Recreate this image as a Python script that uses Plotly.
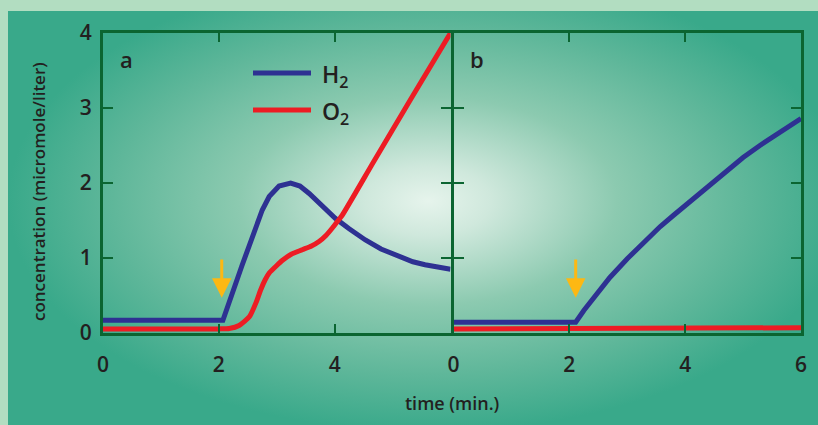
import base64
import plotly.graph_objects as go

# ---------------- data ----------------
# panel a
TA_H2 = [0, 2.07, 2.4, 2.75, 2.87, 3.04, 3.24, 3.4, 3.56, 3.8, 4.01, 4.25, 4.53, 4.8, 5.1, 5.35, 5.56, 5.8, 6.0]
H2_A = [0.17, 0.17, 0.90, 1.64, 1.82, 1.96, 2.0, 1.96, 1.86, 1.68, 1.53, 1.39, 1.24, 1.12, 1.02, 0.95, 0.91, 0.87, 0.85]
TA_O2 = [0, 1.0, 2.0, 2.18, 2.35, 2.53, 2.65, 2.72, 2.8, 2.87, 3.0, 3.1, 3.25, 3.44, 3.6, 3.73, 3.85, 3.96, 4.05, 4.13, 4.67, 5.3, 6.0]
O2_A = [0.055, 0.055, 0.055, 0.06, 0.10, 0.22, 0.42, 0.57, 0.71, 0.80, 0.90, 0.97, 1.05, 1.11, 1.16, 1.22, 1.30, 1.40, 1.49, 1.57, 2.28, 3.10, 4.0]
# panel b
TB_H2 = [0, 2.11, 2.25, 2.43, 2.7, 3.0, 3.3, 3.57, 3.8, 4.0, 4.25, 4.5, 4.72, 5.0, 5.29, 5.5, 5.75, 6.0]
H2_B = [0.145, 0.145, 0.30, 0.48, 0.74, 0.99, 1.22, 1.42, 1.57, 1.70, 1.87, 2.03, 2.17, 2.34, 2.50, 2.61, 2.74, 2.86]
TB_O2 = [0, 6.0]
O2_B = [0.055, 0.07]
# injection arrows (x position, arrow tail y, arrow tip y)
ARROW_X = [2.05, 2.11]
ARROW_TAIL = [1.0, 1.0]
ARROW_TIP = [0.47, 0.47]

X_TICKS_A = [0, 2, 4]
X_TICKS_B = [0, 2, 4, 6]
Y_TICKS = [0, 1, 2, 3, 4]

# ---------------- style ----------------
W, H = 818, 425
BLUE = "#2e3192"
RED = "#ed1c24"
ORANGE = "#fdb813"
FRAME = "#0b6531"
TXT = "#231f20"
FONT = "Open Sans"

def px(v):
    return v / W

def py(v):
    return 1 - v / H

# background radial gradient (decoration) as inline svg
svg = (
    "<svg xmlns='http://www.w3.org/2000/svg' width='810' height='414' viewBox='0 0 810 414'>"
    "<defs><radialGradient id='g' gradientUnits='userSpaceOnUse' cx='420' cy='190' r='420' "
    "gradientTransform='translate(420 190) scale(1 0.55) translate(-420 -190)'>"
    "<stop offset='0' stop-color='#e6f4ec'/>"
    "<stop offset='0.15' stop-color='#cfe8dc'/>"
    "<stop offset='0.45' stop-color='#8ccab0'/>"
    "<stop offset='0.75' stop-color='#5fb79a'/>"
    "<stop offset='1' stop-color='#39a98a'/>"
    "</radialGradient></defs>"
    "<rect width='810' height='414' fill='url(#g)'/></svg>"
)
svg_uri = "data:image/svg+xml;base64," + base64.b64encode(svg.encode()).decode()

fig = go.Figure()
fig.add_trace(go.Scatter(x=TA_H2, y=H2_A, mode="lines", line=dict(color=BLUE, width=5),
                         xaxis="x", yaxis="y", showlegend=False, name="H2"))
fig.add_trace(go.Scatter(x=TA_O2, y=O2_A, mode="lines",
                         line=dict(color=RED, width=5, shape="spline", smoothing=0.6),
                         xaxis="x", yaxis="y", showlegend=False, name="O2"))
fig.add_trace(go.Scatter(x=TB_H2, y=H2_B, mode="lines", line=dict(color=BLUE, width=5),
                         xaxis="x2", yaxis="y2", showlegend=False, name="H2"))
fig.add_trace(go.Scatter(x=TB_O2, y=O2_B, mode="lines", line=dict(color=RED, width=5),
                         xaxis="x2", yaxis="y2", showlegend=False, name="O2"))

tickfont = dict(family=FONT, size=21, color=TXT, weight=600)
common_x = dict(range=[0, 6], showgrid=False, zeroline=False, showline=True, linecolor=FRAME,
                linewidth=3, mirror="ticks", ticks="inside", ticklen=9, tickwidth=1.5,
                tickcolor=FRAME, tickfont=tickfont, ticklabelstandoff=11, automargin=False)
common_y = dict(range=[0, 4], showgrid=False, zeroline=False, showline=True, linecolor=FRAME,
                linewidth=3, mirror="ticks", ticks="inside", ticklen=10, tickwidth=1.5,
                tickcolor=FRAME, tickfont=tickfont, tickvals=Y_TICKS, ticklabelstandoff=4,
                automargin=False)

ydom = [py(333), py(33)]
fig.update_layout(
    width=W, height=H,
    margin=dict(l=0, r=0, t=0, b=0, autoexpand=False),
    paper_bgcolor="#b2ddc1",
    plot_bgcolor="rgba(0,0,0,0)",
    xaxis=dict(common_x, domain=[px(103), px(450.5)], tickvals=X_TICKS_A, anchor="y"),
    yaxis=dict(common_y, domain=ydom, anchor="x"),
    xaxis2=dict(common_x, domain=[px(453.5), px(801)], tickvals=X_TICKS_B, anchor="y2"),
    yaxis2=dict(common_y, domain=ydom, anchor="x2", showticklabels=False),
    images=[dict(source=svg_uri, xref="paper", yref="paper", x=px(8), y=py(11),
                 sizex=1 - px(8), sizey=py(11), xanchor="left", yanchor="top",
                 sizing="stretch", layer="below")],
)

ann = []
# panel labels
for xr, yr, lab in [("x domain", "y domain", "a"), ("x2 domain", "y2 domain", "b")]:
    ann.append(dict(text=lab, xref=xr, yref=yr, x=0.069, y=0.913, xanchor="center",
                    yanchor="middle", showarrow=False,
                    font=dict(family=FONT, size=22, color=TXT, weight=600)))
# axis titles
ann.append(dict(text="concentration (micromole/liter)", xref="paper", yref="paper",
                x=px(38), y=py(192), xanchor="center", yanchor="middle", textangle=-90,
                showarrow=False, font=dict(family=FONT, size=17, color=TXT, weight=600)))
ann.append(dict(text="time (min.)", xref="paper", yref="paper", x=px(452), y=py(403),
                xanchor="center", yanchor="middle", showarrow=False,
                font=dict(family=FONT, size=18, color=TXT, weight=600)))
# legend text
for label, yy in [("H<sub>2</sub>", 73), ("O<sub>2</sub>", 110)]:
    ann.append(dict(text=label, xref="paper", yref="paper", x=px(320), y=py(yy + 2),
                    xanchor="left", yanchor="middle", showarrow=False,
                    font=dict(family=FONT, size=23, color=TXT, weight=600)))
# injection arrows
for i, (xr, yr) in enumerate([("x", "y"), ("x2", "y2")]):
    ann.append(dict(text="", x=ARROW_X[i], y=ARROW_TIP[i], ax=ARROW_X[i], ay=ARROW_TAIL[i],
                    xref=xr, yref=yr, axref=xr, ayref=yr, showarrow=True,
                    arrowhead=2, arrowsize=1.3, arrowwidth=3, arrowcolor=ORANGE, standoff=0))
fig.update_layout(annotations=ann)

# legend sample lines
fig.update_layout(shapes=[
    dict(type="line", xref="paper", yref="paper", x0=px(253), x1=px(311), y0=py(73), y1=py(73),
         line=dict(color=BLUE, width=5)),
    dict(type="line", xref="paper", yref="paper", x0=px(253), x1=px(311), y0=py(110), y1=py(110),
         line=dict(color=RED, width=5)),
])

fig.write_html("out.html", config={"displayModeBar": False},
               post_script="document.body.style.margin='0px';")
